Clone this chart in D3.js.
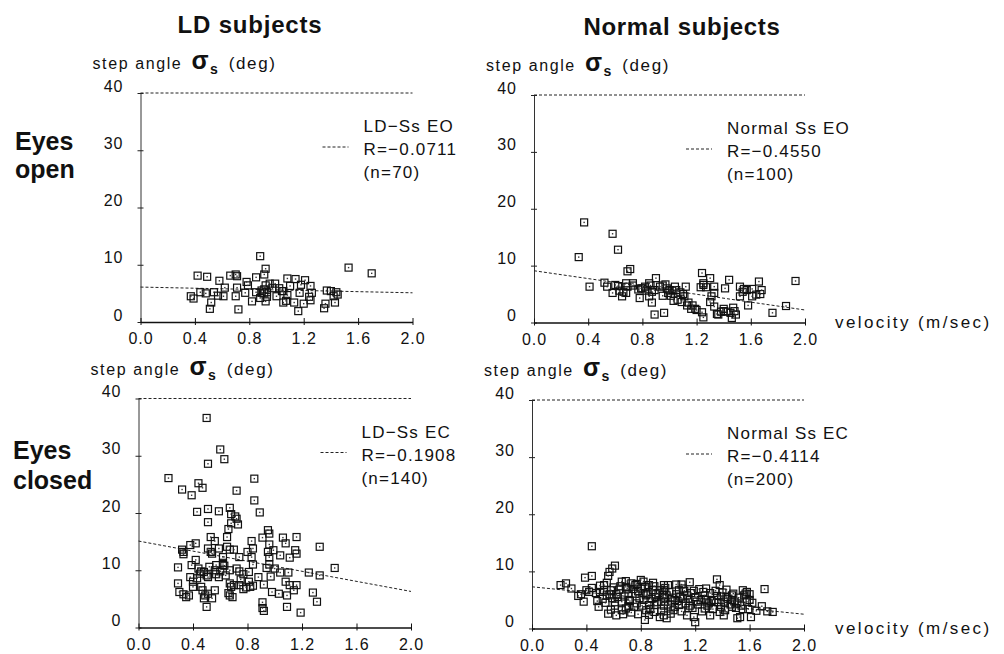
<!DOCTYPE html>
<html>
<head>
<meta charset="utf-8">
<script src="https://cdn.jsdelivr.net/npm/d3@7"></script>
<style>
  body { margin: 0; background: #fff; }
  svg text { font-family: "Liberation Sans", Arial, sans-serif; fill: #111; }
</style>
</head>
<body>
<svg id="chart" width="1004" height="654"></svg>
<script>
// ---- data ----
var xTicks = [0, 0.4, 0.8, 1.2, 1.6, 2.0];
var yTicks = [0, 10, 20, 30, 40];
var colTitles = ["LD subjects", "Normal subjects"];
var rowTitles = [["Eyes", "open"], ["Eyes", "closed"]];
var legendNames = ["LD\u2212Ss EO", "Normal Ss EO", "LD\u2212Ss EC", "Normal Ss EC"];
var legendR = ["R=\u22120.0711", "R=\u22120.4550", "R=\u22120.1908", "R=\u22120.4114"];
var legendN = ["(n=70)", "(n=100)", "(n=140)", "(n=200)"];

// regression line end points [velocity, sigma]
var fitLdEO = [[0, 6.1], [2.0, 5.1]];
var fitNormEO = [[0, 9.1], [2.0, 2.2]];
var fitLdEC = [[0, 15.1], [2.0, 6.3]];
var fitNormEC = [[0, 7.3], [2.0, 2.5]];

// [velocity (m/sec), step angle sigma (deg)]
var ldEO = [[0.88,11.5],[0.92,9.3],[0.91,8.3],[1.53,9.5],[1.70,8.5],[0.42,8.1],[0.49,7.9],[0.58,7.2],[0.66,8.1],[0.70,8.3],
  [0.71,8.0],[0.78,7.0],[0.85,7.8],[0.71,6.0],[0.77,5.1],[0.82,3.6],[0.72,2.2],[0.51,2.3],[0.52,3.4],[0.48,5.0],
  [0.54,5.2],[0.61,4.5],[0.70,4.5],[0.37,4.5],[0.39,4.1],[0.89,5.5],[0.92,6.4],[0.95,6.7],[0.99,6.7],[0.91,5.0],
  [0.93,5.2],[0.92,3.6],[0.91,5.7],[1.02,5.9],[1.05,5.4],[1.08,7.6],[1.14,7.5],[1.18,6.5],[1.17,5.1],[1.08,4.7],
  [1.05,3.4],[1.07,3.7],[1.25,6.3],[1.26,5.1],[1.24,4.4],[1.25,3.8],[1.20,3.2],[1.16,1.9],[1.37,5.5],[1.40,5.4],
  [1.44,5.2],[1.45,4.8],[1.43,3.4],[1.36,3.2],[1.35,2.4],[0.85,5.2],[0.89,5.1],[0.44,5.2],[1.04,5.4],[0.97,5.9],
  [1.10,6.3],[1.00,4.5],[1.13,3.4],[0.88,4.2],[0.62,6.0],[0.93,4.4],[1.21,7.3],[0.79,6.4],[1.42,4.5],[0.57,4.6]];

var normEO = [[0.37,17.6],[0.58,15.6],[0.62,12.8],[0.33,11.5],[0.71,9.4],[0.69,9.0],[0.41,6.3],[0.52,7.0],[0.54,6.3],[0.58,5.2],
  [0.62,6.4],[0.65,4.6],[0.68,6.9],[0.69,6.3],[0.73,6.9],[0.68,5.2],[0.78,4.3],[0.79,6.0],[0.82,6.3],[0.85,6.9],
  [0.90,7.8],[0.87,5.4],[0.85,4.6],[0.87,3.5],[0.93,6.3],[0.97,6.7],[0.98,6.0],[0.95,4.7],[1.01,4.7],[1.03,3.8],
  [1.05,5.7],[1.08,5.3],[1.12,6.3],[1.11,4.6],[1.09,3.6],[1.13,3.0],[1.16,2.4],[1.19,2.4],[1.24,8.7],[1.23,6.2],
  [1.25,6.6],[1.25,6.9],[1.30,7.8],[1.33,6.3],[1.33,5.2],[1.31,4.6],[1.30,3.6],[1.24,1.8],[1.25,0.9],[1.33,2.8],
  [1.36,1.4],[1.38,1.9],[1.40,2.4],[1.42,1.9],[1.45,1.7],[1.47,2.6],[1.49,1.4],[1.46,0.8],[1.41,6.0],[1.44,7.5],
  [1.52,4.6],[1.54,5.4],[1.57,5.7],[1.61,5.9],[1.61,4.6],[1.64,4.9],[1.66,7.2],[1.68,5.7],[1.67,5.0],[1.58,3.0],
  [1.76,1.7],[1.86,2.9],[1.93,7.3],[0.89,1.4],[0.96,1.7],[0.80,6.0],[0.83,5.6],[0.89,5.7],[1.00,5.7],[1.04,6.3],
  [1.02,5.6],[0.66,5.4],[0.73,6.5],[0.95,6.5],[1.27,6.2],[1.06,4.0],[1.17,3.0],[1.55,5.9],[1.52,6.3],[1.40,2.0],
  [0.60,6.6],[0.77,5.8],[1.14,3.5],[0.63,5.6],[1.35,1.5],[0.99,5.2],[1.20,2.2],[1.48,2.0],[0.86,6.5],[1.10,5.0]];

var ldEC = [[0.50,36.6],[0.60,31.1],[0.63,29.4],[0.51,28.6],[0.22,26.1],[0.85,26.0],[0.32,24.1],[0.44,25.2],[0.47,24.4],[0.39,23.1],
  [0.72,23.9],[0.85,22.2],[0.89,20.1],[0.43,20.2],[0.51,20.7],[0.59,20.3],[0.67,20.9],[0.68,19.8],[0.71,19.4],[0.51,18.4],
  [0.72,19.0],[0.73,18.0],[0.68,18.2],[0.66,17.2],[0.65,15.8],[0.53,15.8],[0.56,15.1],[0.95,17.0],[0.96,16.4],[0.83,15.1],
  [0.91,15.7],[0.96,14.5],[1.06,15.7],[1.16,15.8],[1.08,14.7],[1.33,14.1],[0.38,14.4],[0.42,14.7],[0.32,13.6],[0.33,13.2],
  [0.51,13.8],[0.54,12.9],[0.59,13.8],[0.65,14.1],[0.67,13.6],[0.70,13.6],[0.80,13.2],[0.84,13.8],[0.95,13.2],[0.99,13.5],
  [0.96,12.3],[1.15,13.5],[1.11,12.2],[1.16,12.9],[0.62,12.3],[0.62,11.3],[0.62,10.9],[0.42,11.8],[0.39,10.9],[0.29,10.5],
  [0.52,10.6],[0.44,10.3],[0.48,9.7],[0.50,9.1],[0.45,9.4],[0.38,8.8],[0.43,8.6],[0.59,8.8],[0.67,10.0],[0.72,10.3],
  [0.74,9.8],[0.77,9.3],[0.81,9.7],[0.84,11.0],[0.94,10.4],[1.00,10.3],[1.04,9.6],[1.10,9.6],[1.25,9.6],[1.33,9.1],
  [1.44,10.4],[0.29,7.7],[0.30,6.2],[0.33,5.8],[0.35,5.3],[0.37,5.6],[0.40,7.1],[0.46,7.1],[0.49,5.6],[0.51,5.9],
  [0.54,5.1],[0.48,5.1],[0.56,6.5],[0.50,3.6],[0.67,7.7],[0.68,7.1],[0.67,5.6],[0.69,5.3],[0.74,7.4],[0.77,6.7],
  [0.81,8.0],[0.82,7.1],[0.84,7.3],[0.92,7.5],[0.98,6.2],[1.03,5.9],[1.09,5.6],[1.08,8.0],[1.11,7.4],[1.16,7.4],
  [1.14,6.5],[1.28,6.1],[1.31,4.5],[0.91,4.4],[0.91,3.4],[0.92,2.9],[1.09,3.6],[1.19,2.6],[0.57,10.9],[0.64,9.1],
  [0.51,8.8],[0.83,12.3],[0.74,12.3],[0.33,12.8],[0.56,10.0],[0.60,9.8],[0.70,7.4],[0.75,8.4],[0.46,9.8],[0.40,8.0],
  [0.63,10.8],[0.96,11.0],[1.04,12.6],[0.88,8.8],[0.53,13.2],[0.66,6.0],[0.79,7.0],[0.57,9.3],[0.47,6.5],[0.97,8.9]];

var normEC = [[0.44,14.4],[0.61,11.0],[0.59,10.5],[0.57,9.9],[0.56,9.2],[0.44,9.2],[0.39,8.9],[0.21,7.6],[0.25,7.9],[0.29,7.0],
  [0.34,5.7],[0.38,4.7],[0.44,7.1],[0.40,6.7],[0.50,6.4],[0.49,3.8],[0.55,5.8],[0.53,6.7],[0.58,6.7],[0.59,5.3],
  [0.61,4.0],[0.62,2.3],[0.67,2.5],[0.66,4.7],[0.66,8.2],[0.69,7.3],[0.73,7.9],[0.71,6.1],[0.76,6.1],[0.77,4.4],
  [0.78,2.5],[0.82,8.2],[0.80,7.0],[0.84,5.8],[0.82,5.0],[0.83,1.5],[0.86,7.6],[0.89,6.7],[0.90,4.1],[0.90,2.9],
  [0.91,5.5],[0.94,6.7],[0.95,4.7],[0.97,7.6],[0.97,5.3],[0.86,4.1],[0.69,3.5],[0.71,5.0],[1.06,7.7],[1.10,7.7],
  [1.16,8.1],[1.11,7.0],[1.36,8.6],[1.38,7.6],[1.71,6.9],[0.97,6.7],[0.99,5.8],[0.98,4.7],[0.97,2.3],[0.99,1.8],
  [1.05,5.0],[1.08,4.1],[1.14,5.8],[1.14,2.3],[1.19,2.0],[1.20,1.1],[1.15,3.6],[1.26,6.4],[1.28,5.0],[1.27,3.5],
  [1.31,2.3],[1.36,5.7],[1.30,4.4],[1.39,3.8],[1.41,4.7],[1.41,2.3],[1.43,5.5],[1.47,5.8],[1.49,4.7],[1.51,1.8],
  [1.53,2.0],[1.55,6.7],[1.57,6.1],[1.60,6.0],[1.60,5.0],[1.61,2.0],[1.58,4.7],[1.69,3.9],[1.73,3.0],[1.77,2.9],
  [1.38,2.9],[1.47,3.8],[1.21,4.7],[1.02,3.5],[0.52,5.2],[0.54,4.5],[0.57,6.0],[0.60,7.2],[0.63,5.5],[0.64,6.8],
  [0.66,3.2],[0.68,5.6],[0.70,7.0],[0.72,4.8],[0.74,6.9],[0.75,3.8],[0.78,6.5],[0.79,5.3],[0.81,4.0],[0.83,7.3],
  [0.85,6.0],[0.87,3.4],[0.88,5.2],[0.90,7.4],[0.92,4.6],[0.93,6.2],[0.95,3.0],[0.96,5.9],[0.98,7.1],[1.00,4.2],
  [1.01,6.4],[1.03,5.4],[1.04,3.2],[1.06,6.0],[1.07,4.8],[1.09,5.6],[1.10,3.0],[1.12,6.6],[1.13,4.4],[1.15,5.2],
  [1.17,6.2],[1.18,3.6],[1.20,5.5],[1.22,4.2],[1.23,6.9],[1.25,3.0],[1.27,5.8],[1.29,4.0],[1.31,6.2],[1.33,3.4],
  [1.34,5.0],[1.37,4.6],[1.40,6.3],[1.42,3.2],[1.44,5.2],[1.46,4.2],[1.48,6.1],[1.50,3.6],[1.52,5.4],[1.54,4.0],
  [1.56,5.8],[1.59,3.4],[1.62,4.5],[1.65,3.1],[0.47,6.2],[0.50,7.5],[0.55,8.0],[0.62,6.0],[0.69,8.3],[0.76,7.6],
  [0.80,8.5],[0.86,2.4],[0.94,2.0],[1.02,2.6],[0.73,2.8],[0.58,3.3],[0.53,7.6],[0.61,4.6],[0.65,7.4],[0.71,3.9],
  [0.77,7.8],[0.82,6.2],[0.84,3.2],[0.89,8.0],[0.91,6.0],[0.97,4.0],[1.00,7.6],[1.05,3.8],[1.08,6.7],[1.11,5.2],
  [1.16,4.0],[1.19,6.6],[1.24,5.0],[1.28,7.0],[1.32,4.8],[1.35,6.6],[1.39,5.6],[1.43,6.8],[1.47,5.0],[1.51,4.4],
  [1.55,3.4],[1.58,6.4],[0.42,6.4],[0.36,6.0],[0.48,4.8],[0.56,2.6]];

// ---- layout ----
var svg = d3.select("#chart");

var panels = [
  { data: ldEO,   fit: fitLdEO,   i: 0, x0: 140.5, x1: 412.5, yTop: 93,  yBot: 322, legX: 223, vel: false },
  { data: normEO, fit: fitNormEO, i: 1, x0: 534,   x1: 805,   yTop: 95,  yBot: 322.5, legX: 193, vel: true },
  { data: ldEC,   fit: fitLdEC,   i: 2, x0: 138.5, x1: 411,   yTop: 398.5, yBot: 627.5, legX: 223, vel: false },
  { data: normEC, fit: fitNormEC, i: 3, x0: 532,   x1: 804,   yTop: 400, yBot: 628.5, legX: 195, vel: true }
];

panels.forEach(function (p) {
  var g = svg.append("g");
  var x = d3.scaleLinear().domain([0, 2]).range([p.x0, p.x1]);
  var y = d3.scaleLinear().domain([0, 40]).range([p.yBot, p.yTop]);

  // dashed line across the top at 40
  g.append("line")
    .attr("x1", x(0)).attr("x2", x(2))
    .attr("y1", y(40)).attr("y2", y(40))
    .attr("stroke", "#222").attr("stroke-width", 1)
    .attr("stroke-dasharray", "3,2");

  // y axis
  var ya = g.append("g")
    .attr("transform", "translate(" + p.x0 + ",0)")
    .call(d3.axisLeft(y).tickValues(yTicks).tickSize(3).tickPadding(14).tickSizeOuter(0))
    .attr("font-size", null).attr("font-family", null);
  ya.select(".domain").attr("stroke", "#333").attr("stroke-width", 1);
  ya.selectAll(".tick line").attr("x1", 3).attr("stroke", "#222");
  ya.selectAll(".tick text")
    .attr("dy", "-0.12em")
    .style("font-size", "16px").style("letter-spacing", "1px");

  // x axis
  var xa = g.append("g")
    .attr("transform", "translate(0," + p.yBot + ")")
    .call(d3.axisBottom(x).tickValues(xTicks).tickFormat(d3.format(".1f")).tickSize(3).tickPadding(8).tickSizeOuter(0))
    .attr("font-size", null).attr("font-family", null);
  xa.select(".domain").attr("stroke", "#111").attr("stroke-width", 1.6);
  xa.selectAll(".tick line").attr("y1", -4).attr("stroke", "#111");
  xa.selectAll(".tick text")
    .style("font-size", "16px").style("letter-spacing", "1px");

  // y label: step angle sigma_s (deg)
  var lab = g.append("text")
    .attr("x", p.x0 - 48).attr("y", p.yTop - 24)
    .style("font-size", "16px").style("letter-spacing", "1.6px");
  lab.append("tspan").text("step angle ");
  lab.append("tspan").text("\u03C3").style("font-weight", "bold").style("font-size", "25px").attr("dx", 3);
  lab.append("tspan").text("s").style("font-weight", "bold").style("font-size", "14px").attr("dy", 5);
  lab.append("tspan").text(" (deg)").style("font-size", "17px").attr("dy", -5).attr("dx", 3);

  // regression line
  g.append("path")
    .datum(p.fit)
    .attr("d", d3.line().x(function (d) { return x(d[0]); }).y(function (d) { return y(d[1]); }))
    .attr("fill", "none").attr("stroke", "#222").attr("stroke-width", 1)
    .attr("stroke-dasharray", "3,2");

  // scatter squares
  g.selectAll("rect.pt").data(p.data).enter()
    .append("rect")
    .attr("class", "pt")
    .attr("x", function (d) { return x(d[0]) - 3.5; })
    .attr("y", function (d) { return y(d[1]) - 3.5; })
    .attr("width", 7).attr("height", 7)
    .attr("fill", "none").attr("stroke", "#111").attr("stroke-width", 1.2);
  g.selectAll("rect.dot").data(p.data).enter()
    .append("rect")
    .attr("class", "dot")
    .attr("x", function (d) { return x(d[0]) - 0.7; })
    .attr("y", function (d) { return y(d[1]) - 0.7; })
    .attr("width", 1.4).attr("height", 1.4)
    .attr("fill", "#333");

  // legend
  var lx = p.x0 + p.legX;
  g.append("line")
    .attr("x1", lx - 41).attr("x2", lx - 15)
    .attr("y1", p.yTop + 54).attr("y2", p.yTop + 54)
    .attr("stroke", "#222").attr("stroke-dasharray", "3,2");
  [legendNames[p.i], legendR[p.i], legendN[p.i]].forEach(function (t, k) {
    g.append("text")
      .attr("x", lx).attr("y", p.yTop + 39 + k * 23)
      .style("font-size", "17px").style("letter-spacing", "1.2px")
      .text(t);
  });

  if (p.vel) {
    g.append("text")
      .attr("x", 835).attr("y", p.yBot + 5)
      .style("font-size", "17px").style("letter-spacing", "2.4px")
      .text("velocity (m/sec)");
  }
});

// column titles
svg.append("text").attr("x", 250).attr("y", 33).attr("text-anchor", "middle")
  .style("font-size", "24px").style("font-weight", "bold").style("letter-spacing", "0.8px")
  .text(colTitles[0]);
svg.append("text").attr("x", 682).attr("y", 35).attr("text-anchor", "middle")
  .style("font-size", "24px").style("font-weight", "bold").style("letter-spacing", "0.7px")
  .text(colTitles[1]);

// row titles
var rowPos = [[15, 150, 178], [13, 459, 489]];
rowTitles.forEach(function (r, k) {
  r.forEach(function (t, j) {
    svg.append("text")
      .attr("x", rowPos[k][0]).attr("y", rowPos[k][1 + j])
      .style("font-size", "25px").style("font-weight", "bold")
      .text(t);
  });
});
</script>
</body>
</html>
